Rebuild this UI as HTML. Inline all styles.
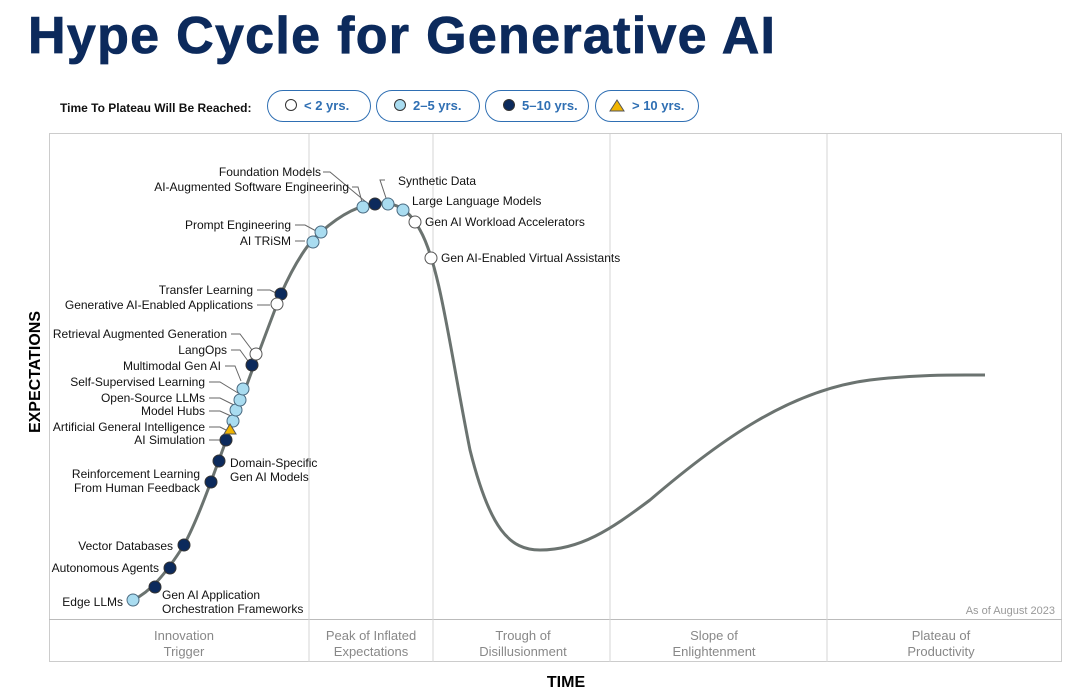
<!DOCTYPE html>
<html><head><meta charset="utf-8"><style>
body{margin:0;width:1068px;height:695px;background:#fff;font-family:"Liberation Sans",sans-serif;overflow:hidden;position:relative}
.t{position:absolute;left:28px;top:6px;font-size:52px;font-weight:900;color:#0c2a5c;letter-spacing:1.3px;-webkit-text-stroke:0.8px #0c2a5c}
.lg{position:absolute;top:101px;left:60px;font-size:12px;font-weight:bold;color:#111}
.pill{position:absolute;top:90px;height:32px;border:1.5px solid #2f6fb3;border-radius:17px;box-sizing:border-box;color:#2f6fb3;font-size:13px;font-weight:bold;line-height:29px;padding-left:36px}
.pill i{position:absolute;left:17px;top:8px;width:12px;height:12px;border-radius:50%;border:1px solid #333;box-sizing:border-box}
</style></head><body>
<div class="t">Hype Cycle for Generative AI</div>
<div class="lg">Time To Plateau Will Be Reached:</div>
<div class="pill" style="left:267px;width:104px"><i style="background:#fff"></i>&lt; 2 yrs.</div>
<div class="pill" style="left:376px;width:104px"><i style="background:#a9dcf0"></i>2–5 yrs.</div>
<div class="pill" style="left:485px;width:104px"><i style="background:#0c2a5c"></i>5–10 yrs.</div>
<div class="pill" style="left:595px;width:104px;padding-left:36px"><svg style="position:absolute;left:13px;top:8px" width="16" height="13"><polygon points="8,1 15,12 1,12" fill="#f0b400" stroke="#555" stroke-width="1"/></svg>&gt; 10 yrs.</div>
<svg width="1068" height="695" style="position:absolute;left:0;top:0" font-family="Liberation Sans, sans-serif">
<rect x="49.5" y="133.5" width="1012" height="528" fill="none" stroke="#ccc"/>
<line x1="49" y1="619.5" x2="1062" y2="619.5" stroke="#bbb"/>
<g stroke="#d6d6d6"><line x1="309" y1="134" x2="309" y2="662"/><line x1="433" y1="134" x2="433" y2="662"/><line x1="610" y1="134" x2="610" y2="662"/><line x1="827" y1="134" x2="827" y2="662"/></g>
<g font-size="13" fill="#888" text-anchor="middle">
<text x="184" y="640">Innovation</text><text x="184" y="656">Trigger</text>
<text x="371" y="640">Peak of Inflated</text><text x="371" y="656">Expectations</text>
<text x="523" y="640">Trough of</text><text x="523" y="656">Disillusionment</text>
<text x="714" y="640">Slope of</text><text x="714" y="656">Enlightenment</text>
<text x="941" y="640">Plateau of</text><text x="941" y="656">Productivity</text>
</g>
<text x="1055" y="614" font-size="11" fill="#999" text-anchor="end">As of August 2023</text>
<text x="566" y="687" font-size="16" font-weight="bold" text-anchor="middle">TIME</text>
<text transform="translate(40,372) rotate(-90)" font-size="16" font-weight="bold" text-anchor="middle">EXPECTATIONS</text>
<path d="M133,600 C150,592 165,575 184,545 C200,515 215,470 230,430 C245,390 265,335 281,294 C295,262 310,240 321,232 C340,215 360,204 380,203 C400,203 410,212 420,230 C440,265 450,350 470,450 C490,530 510,550 540,550 C580,550 610,530 650,500 C720,440 790,390 870,380 C920,374 960,375 985,375" fill="none" stroke="#6b7370" stroke-width="3"/>
<g stroke="#666" stroke-width="1" fill="none">
<path d="M323,172 H330 L366,202"/><path d="M352,187 H358 L362,202"/><path d="M385,180 H380 L386,198"/>
<path d="M295,225 H305 L318,232"/><path d="M295,241 H305"/>
<path d="M257,290 H270 L278,294"/><path d="M257,305 H270"/>
<path d="M231,334 H240 L252,350"/><path d="M231,350 H240 L248,361"/><path d="M225,366 H235 L241,381"/>
<path d="M209,382 H220 L238,393"/><path d="M209,398 H220 L234,405"/><path d="M209,411 H220 L231,416"/><path d="M209,427 H220 L226,430"/><path d="M209,440 H220"/>
</g>
<g fill="#a9dcf0" stroke="#4a6a80" stroke-width="1">
<circle cx="133" cy="600" r="6"/><circle cx="233" cy="421" r="6"/><circle cx="236" cy="410" r="6"/><circle cx="240" cy="400" r="6"/><circle cx="243" cy="389" r="6"/>
<circle cx="313" cy="242" r="6"/><circle cx="321" cy="232" r="6"/><circle cx="363" cy="207" r="6"/><circle cx="388" cy="204" r="6"/><circle cx="403" cy="210" r="6"/>
</g>
<g fill="#0c2a5c" stroke="#333" stroke-width="1">
<circle cx="155" cy="587" r="6"/><circle cx="170" cy="568" r="6"/><circle cx="184" cy="545" r="6"/><circle cx="211" cy="482" r="6"/><circle cx="219" cy="461" r="6"/><circle cx="226" cy="440" r="6"/><circle cx="252" cy="365" r="6"/><circle cx="281" cy="294" r="6"/><circle cx="375" cy="204" r="6"/>
</g>
<g fill="#fff" stroke="#555" stroke-width="1">
<circle cx="256" cy="354" r="6"/><circle cx="277" cy="304" r="6"/><circle cx="415" cy="222" r="6"/><circle cx="431" cy="258" r="6"/>
</g>
<polygon points="230,424 236,434 224,434" fill="#f0b400" stroke="#555"/>
<g font-size="12" fill="#111">
<g text-anchor="end">
<text x="321" y="176">Foundation Models</text><text x="349" y="191">AI-Augmented Software Engineering</text>
<text x="291" y="229">Prompt Engineering</text><text x="291" y="245">AI TRiSM</text>
<text x="253" y="294">Transfer Learning</text><text x="253" y="309">Generative AI-Enabled Applications</text>
<text x="227" y="338">Retrieval Augmented Generation</text><text x="227" y="354">LangOps</text><text x="221" y="370">Multimodal Gen AI</text>
<text x="205" y="386">Self-Supervised Learning</text><text x="205" y="402">Open-Source LLMs</text><text x="205" y="415">Model Hubs</text><text x="205" y="431">Artificial General Intelligence</text><text x="205" y="444">AI Simulation</text>
<text x="200" y="478">Reinforcement Learning</text><text x="200" y="492">From Human Feedback</text>
<text x="173" y="550">Vector Databases</text><text x="159" y="572">Autonomous Agents</text><text x="123" y="606">Edge LLMs</text>
</g>
<text x="398" y="185">Synthetic Data</text><text x="412" y="205">Large Language Models</text><text x="425" y="226">Gen AI Workload Accelerators</text><text x="441" y="262">Gen AI-Enabled Virtual Assistants</text>
<text x="230" y="467">Domain-Specific</text><text x="230" y="481">Gen AI Models</text>
<text x="162" y="599">Gen AI Application</text><text x="162" y="613">Orchestration Frameworks</text>
</g>
</svg>
</body></html>
